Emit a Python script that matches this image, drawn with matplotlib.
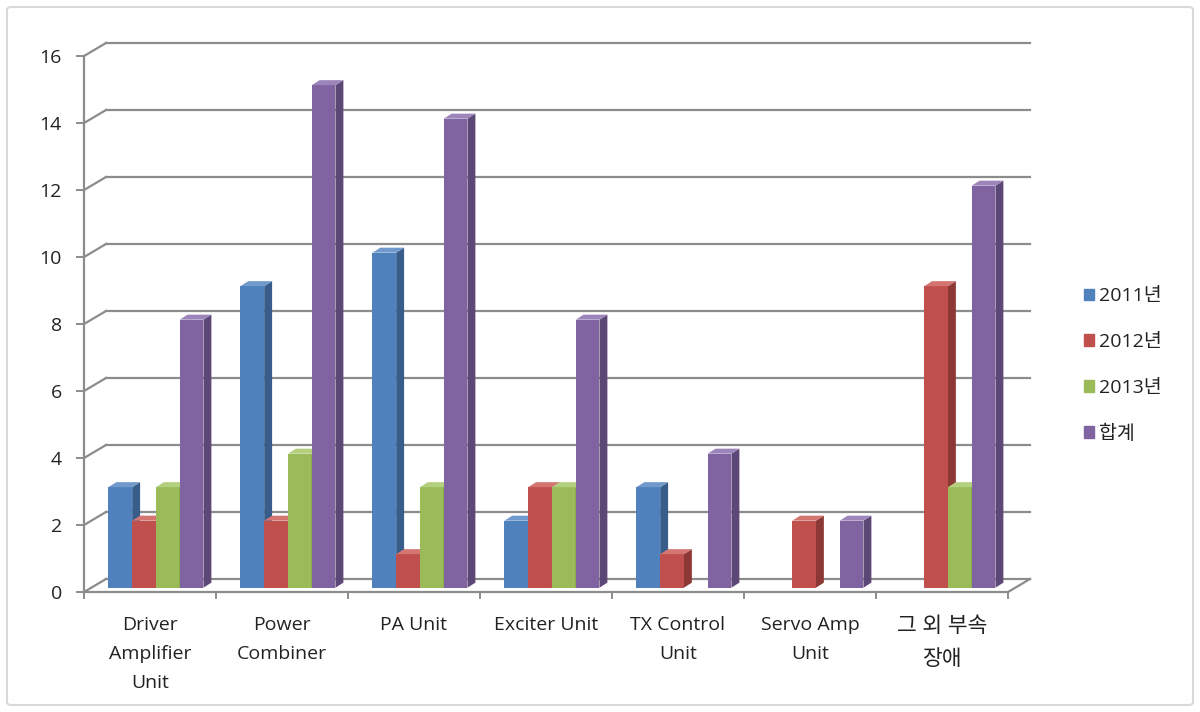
import matplotlib.pyplot as plt
from matplotlib.patches import Polygon, Patch, FancyBboxPatch

# data
categories = ['Driver\nAmplifier\nUnit', 'Power\nCombiner', 'PA Unit', 'Exciter Unit',
              'TX Control\nUnit', 'Servo Amp\nUnit', '그 외 부속\n장애']
series_names = ['2011년', '2012년', '2013년', '합계']
y2011 = [3, 9, 10, 2, 3, 0, 0]
y2012 = [2, 2, 1, 3, 1, 2, 9]
y2013 = [3, 4, 3, 3, 0, 0, 3]
total = [8, 15, 14, 8, 4, 2, 12]
yticks = [0, 2, 4, 6, 8, 10, 12, 14, 16]

plt.rcParams['font.family'] = ['Open Sans', 'Noto Sans CJK KR', 'DejaVu Sans']

# front, side, top colours (Excel 2007 style)
faces = [('#4F81BD', '#385D8A', '#7199CC'),
         ('#C0504D', '#8C3836', '#D47572'),
         ('#9BBB59', '#71893F', '#B4CF7E'),
         ('#8064A2', '#5C4876', '#9C85BA')]

fig = plt.figure(figsize=(12, 7.12), dpi=100)
ax = fig.add_axes([0.07, 0.1685, 0.77, 0.7528])
ax.set_xlim(0, 7)
ax.set_ylim(0, 16)

grid_c = '#8C8C8C'
DX, DY = 0.167, 0.39      # wall depth (data units)
BX, BY = 0.045, 0.13      # bar front offset
BDX, BDY = 0.06, 0.15     # bar depth
W = 0.18

# back wall grid and left wall diagonals
for v in yticks:
    ax.plot([DX, 7 + DX], [v + DY, v + DY], color=grid_c, lw=1.6, zorder=1, clip_on=False)
    ax.plot([0, DX], [v, v + DY], color=grid_c, lw=1.6, zorder=1, clip_on=False)
ax.plot([7, 7 + DX], [0, DY], color=grid_c, lw=1.6, zorder=1, clip_on=False)

# bars: later bars cover the side of the previous one
z = 3
for i in range(len(categories)):
    for j, vals in enumerate([y2011, y2012, y2013, total]):
        h = vals[i]
        if h == 0:
            continue
        front, side, top = faces[j]
        x0 = i + 0.14 + j * W + BX
        ax.bar(x0, h, width=W, bottom=BY, align='edge', color=front, lw=0, zorder=z, clip_on=False)
        ax.add_patch(Polygon([(x0 + W, BY), (x0 + W + BDX, BY + BDY),
                              (x0 + W + BDX, h + BY + BDY), (x0 + W, h + BY)],
                             closed=True, color=side, lw=0, zorder=z, clip_on=False))
        ax.add_patch(Polygon([(x0, h + BY), (x0 + W, h + BY),
                              (x0 + W + BDX, h + BY + BDY), (x0 + BDX, h + BY + BDY)],
                             closed=True, color=top, lw=0, zorder=z, clip_on=False))
        z += 1

# axes
for s in ['top', 'right']:
    ax.spines[s].set_visible(False)
for s in ['left', 'bottom']:
    ax.spines[s].set_color(grid_c)
    ax.spines[s].set_linewidth(1.6)
ax.set_facecolor('none')
ax.set_yticks(yticks)
ax.set_yticklabels([str(v) for v in yticks])
ax.tick_params(axis='y', length=6, width=1.4, color=grid_c, pad=10, labelsize=14, labelcolor='#222222')
ax.set_xticks(range(8))
ax.set_xticklabels([''] * 8)
ax.tick_params(axis='x', which='major', length=5, width=1.4, color=grid_c)
ax.set_xticks([i + 0.5 for i in range(7)], minor=True)
ax.set_xticklabels(categories, minor=True, fontsize=14, linespacing=1.8, color='#222222')
ax.tick_params(axis='x', which='minor', length=0, pad=17)
# Korean label is set a little larger in the original
kor = ax.get_xticklabels(minor=True)[-1]
kor.set_fontsize(15.5)
kor.set_linespacing(1.8)

handles = [Patch(color=f[0]) for f in faces]
fig.legend(handles, series_names, loc='center left', bbox_to_anchor=(1066 / 1200, 1 - 365 / 712),
           frameon=False, handlelength=0.55, handleheight=0.55, handletextpad=0.25,
           labelspacing=1.42, fontsize=14, labelcolor='#222222')

frame = FancyBboxPatch((7 / 1200, 7 / 712), 1186 / 1200, 698 / 712, boxstyle='round,pad=0,rounding_size=0.004',
                       transform=fig.transFigure, fill=False, edgecolor='#D9D9D9', lw=1.5)
fig.patches.append(frame)

fig.savefig('out.png', dpi=100)
